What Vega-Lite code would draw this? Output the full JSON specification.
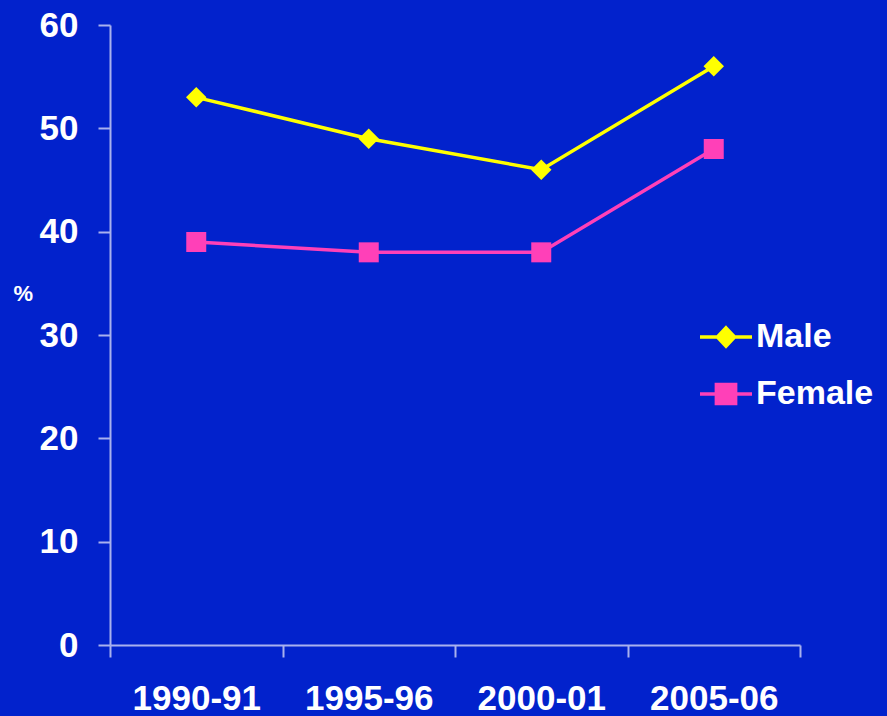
{
  "$schema": "https://vega.github.io/schema/vega-lite/v6.json",
  "width": 690,
  "height": 620,
  "autosize": "none",
  "padding": {"left": 110, "top": 25, "right": 87, "bottom": 71},
  "background": "#0222CC",
  "config": {
    "view": {"stroke": null},
    "font": "Liberation Sans",
    "axis": {"grid": false, "domainColor": "#A9B1EE", "tickColor": "#A9B1EE", "domainWidth": 2, "tickWidth": 2, "tickSize": 12, "labelColor": "#FFFFFF", "labelFont": "Liberation Sans", "labelFontWeight": "bold", "labelFontSize": 35, "titleColor": "#FFFFFF", "titleFont": "Liberation Sans"}
  },
  "data": {
    "values": [
      {"year": "1990-91", "sex": "Male", "pct": 53},
      {"year": "1995-96", "sex": "Male", "pct": 49},
      {"year": "2000-01", "sex": "Male", "pct": 46},
      {"year": "2005-06", "sex": "Male", "pct": 56},
      {"year": "1990-91", "sex": "Female", "pct": 39},
      {"year": "1995-96", "sex": "Female", "pct": 38},
      {"year": "2000-01", "sex": "Female", "pct": 38},
      {"year": "2005-06", "sex": "Female", "pct": 48}
    ]
  },
  "encoding": {
    "x": {
      "field": "year", "type": "ordinal",
      "scale": {"type": "band", "paddingInner": 0, "paddingOuter": 0},
      "axis": {"title": null, "labelAngle": 0, "tickBand": "extent", "labelPadding": 24, "labelBaseline": "top"}
    },
    "y": {
      "field": "pct", "type": "quantitative",
      "scale": {"domain": [0, 60], "nice": false},
      "axis": {"values": [0, 10, 20, 30, 40, 50, 60], "labelPadding": 20, "title": "%", "titleAngle": 0, "titleFontSize": 22, "titleFontWeight": "bold", "titleAlign": "left", "titleBaseline": "middle", "titleX": -97, "titleY": 268}
    },
    "color": {
      "field": "sex", "type": "nominal",
      "scale": {"domain": ["Male", "Female"], "range": ["#FFFF00", "#FF40B8"]},
      "legend": {
        "title": null, "orient": "none", "legendX": 588, "legendY": 284, "padding": 0,
        "symbolSize": 2704, "symbolStrokeWidth": 3, "labelFontSize": 34, "labelFontWeight": "bold", "labelColor": "#FFFFFF", "labelFont": "Liberation Sans", "labelOffset": 2, "rowPadding": 12,
        "encode": {
          "symbols": {
            "update": {
              "shape": {"signal": "datum.value === 'Male' ? 'M-1,0L1,0M0,-0.35L0.33,0L0,0.35L-0.33,0Z' : 'M-1,0L1,0M-0.37,-0.37L0.37,-0.37L0.37,0.37L-0.37,0.37Z'"},
              "fill": {"signal": "datum.value === 'Male' ? '#FFFF00' : '#FF40B8'"},
              "stroke": {"signal": "datum.value === 'Male' ? '#FFFF00' : '#FF40B8'"},
              "strokeWidth": {"value": 3.5},
              "opacity": {"value": 1},
              "fillOpacity": {"value": 1}
            }
          }
        }
      }
    }
  },
  "layer": [
    {"mark": {"type": "line", "strokeWidth": 3.5}},
    {
      "transform": [{"filter": "datum.sex === 'Male'"}],
      "mark": {"type": "point", "filled": true, "opacity": 1, "size": 420, "shape": "diamond"}
    },
    {
      "transform": [{"filter": "datum.sex === 'Female'"}],
      "mark": {"type": "point", "filled": true, "opacity": 1, "size": 400, "shape": "square"}
    }
  ]
}
